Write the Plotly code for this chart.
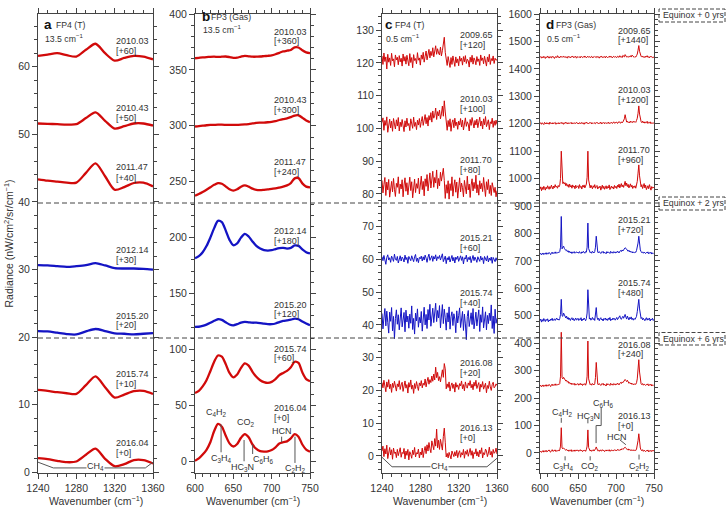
import plotly.graph_objects as go

# ---------------- data ----------------
YEARS_AB = ["2010.03", "2010.43", "2011.47", "2012.14", "2015.20", "2015.74", "2016.04"]
YEARS_CD = ["2009.65", "2010.03", "2011.70", "2015.21", "2015.74", "2016.08", "2016.13"]
OFFSET_A = [60, 50, 40, 30, 20, 10, 0]
OFFSET_B = [360, 300, 240, 180, 120, 60, 0]
OFFSET_C = [120, 100, 80, 60, 40, 20, 0]
OFFSET_D = [1440, 1200, 960, 720, 480, 240, 0]
SEASON = ["red", "red", "red", "blue", "blue", "red", "red"]

# panel a : FP4 13.5 cm-1 (radiance without offset)
WN_A = [1240, 1250, 1260, 1270, 1280, 1290, 1300, 1310, 1320, 1330, 1340, 1350, 1360]
A_201003 = [1.6, 1.8, 2.0, 1.7, 1.5, 2.5, 3.4, 2.0, 0.9, 1.3, 1.6, 1.5, 1.1]
A_201043 = [1.6, 1.55, 1.5, 1.45, 1.5, 2.4, 3.25, 2.0, 0.85, 1.2, 1.6, 1.6, 1.3]
A_201147 = [3.35, 3.15, 3.0, 2.85, 2.85, 4.3, 5.7, 3.8, 1.8, 2.2, 2.8, 2.85, 2.3]
A_201214 = [0.65, 0.6, 0.5, 0.4, 0.5, 0.65, 0.95, 0.6, 0.2, 0.15, 0.15, 0.1, 0.0]
A_201520 = [0.9, 0.85, 0.65, 0.45, 0.4, 0.85, 1.2, 0.9, 0.55, 0.5, 0.4, 0.5, 0.6]
A_201574 = [2.2, 2.05, 1.85, 1.7, 1.6, 2.9, 4.2, 2.6, 1.05, 1.5, 2.0, 2.05, 1.6]
A_201604 = [2.1, 1.95, 1.7, 1.5, 1.6, 2.6, 3.5, 2.0, 0.9, 1.2, 1.8, 1.8, 1.3]

# panel b : FP3 13.5 cm-1
WN_B = [600, 605, 610, 615, 620, 625, 630, 635, 640, 645, 650, 655, 660, 665, 670, 675,
        680, 685, 690, 695, 700, 705, 710, 715, 720, 725, 730, 735, 740, 745, 750]
B_201003 = [0.4, 0.8, 1.2, 1.5, 1.7, 1.8, 1.6, 1.8, 2.0, 1.5, 0.8, 1.0, 1.9, 2.6, 2.2, 1.8,
            1.8, 2.0, 2.3, 2.6, 3.0, 4.0, 5.3, 6.5, 7.2, 7.8, 10.2, 10.0, 7.5, 5.6, 5.0]
B_201043 = [-0.6, -0.3, 0.1, 0.5, 0.8, 0.9, 1.0, 1.0, 0.9, 0.8, 0.8, 0.9, 1.0, 1.2, 1.6, 2.1,
            2.6, 2.8, 2.9, 3.2, 3.6, 4.2, 5.2, 6.0, 6.6, 7.8, 9.2, 9.4, 7.2, 4.8, 3.3]
B_201147 = [-2.5, -1.0, 0.8, 2.8, 5.0, 7.2, 8.7, 8.2, 5.8, 3.2, 2.0, 3.2, 5.5, 6.7, 5.6, 3.8,
            2.7, 2.5, 2.8, 3.2, 3.7, 4.1, 4.8, 5.6, 6.7, 8.8, 13.0, 13.2, 8.5, 5.6, 5.0]
B_201214 = [1.6, 3.5, 7.0, 12.5, 20.0, 28.5, 35.0, 33.8, 26.5, 18.0, 13.2, 14.8, 20.0, 23.4, 21.0, 16.5,
            12.6, 10.2, 8.8, 8.4, 8.8, 9.8, 10.6, 10.8, 10.2, 10.8, 13.0, 12.6, 9.5, 7.0, 5.8]
B_201520 = [0.1, 0.3, 1.0, 2.2, 3.8, 5.6, 7.0, 6.4, 4.3, 2.3, 1.6, 2.6, 4.0, 4.7, 4.3, 3.9,
            4.0, 3.6, 3.0, 2.6, 2.6, 3.2, 4.5, 5.5, 6.0, 6.6, 7.6, 7.0, 5.0, 3.2, 1.6]
B_201574 = [1.1, 3.0, 7.0, 12.5, 20.5, 29.0, 34.6, 33.5, 27.0, 19.0, 15.0, 17.5, 23.5, 27.5, 25.5, 20.0,
            15.5, 12.5, 10.8, 10.1, 11.0, 13.5, 17.0, 19.0, 20.8, 24.0, 29.0, 28.0, 19.5, 13.5, 11.6]
B_201604 = [0.5, 2.5, 6.0, 10.2, 17.0, 27.0, 33.5, 31.0, 23.0, 16.0, 13.2, 15.5, 21.0, 24.3, 21.5, 15.0,
            11.0, 9.0, 8.6, 8.8, 10.0, 12.5, 15.8, 17.0, 17.8, 20.5, 24.3, 22.0, 15.0, 10.5, 8.6]

# panel c : FP4 0.5 cm-1, sampled every 1 cm-1 from 1240 to 1360
WN_C = list(range(1240, 1361))
C_200965 = [2.1, -0.5, 3.0, 0.4, 1.8, -1.9, 2.6, 0.2, 1.5, -0.8, 2.9, 0.6, 1.2, -1.2, 2.4, 0.9, 1.7, -0.6, 2.2, 0.3,
            1.4, -1.0, 2.7, 0.5, 1.9, -0.4, 2.3, 1.0, -0.9, 2.8, 0.1, 1.6, -1.5, 2.5, 0.7, 1.3, -0.3, 3.1, 0.8, 1.5,
            -0.7, 2.4, 1.1, 3.2, 0.2, 2.0, 3.6, 0.9, 2.9, 4.1, 1.5, 3.5, 2.2, 4.6, 1.8, 3.9, 5.2, 2.6, 4.3, 3.0,
            2.4, 4.8, 2.1, 3.7, 5.9, 7.8, 3.2, 0.6, -0.8, 1.9, 0.2, -1.4, 1.6, -0.5, 2.1, 0.4, -1.1, 1.8, 0.0, 1.2,
            -0.9, 2.0, 0.5, 1.4, -0.7, 1.9, 0.3, 2.2, -0.2, 1.1, 0.6, -1.3, 1.7, 0.2, 2.3, -0.4, 1.5, 0.8, -0.6, 1.9,
            0.4, 1.2, -0.8, 2.4, 0.7, 1.5, -0.3, 2.0, 0.9, -1.0, 1.8, 0.3, 2.6, -0.5, 1.3, 0.6, 2.1, -0.2, 1.4, 0.8,
            1.0]
C_201003 = [1.8, 3.2, -0.6, 2.4, 0.9, 3.5, -1.2, 1.6, 2.8, 0.1, 2.2, -0.9, 3.0, 1.3, -0.2, 2.6, 0.7, 3.3, -0.8, 1.9,
            0.5, 2.7, 1.1, -1.0, 2.3, 0.4, 3.1, 0.8, 1.5, -0.7, 2.9, 1.2, 0.0, 3.4, 0.6, 1.8, -0.4, 2.5, 1.0, 3.0,
            0.3, 2.1, 3.6, 0.9, 2.8, 4.2, 1.4, 3.3, 0.7, 3.9, 2.5, 4.8, 1.9, 5.3, 3.1, 4.0, 6.2, 2.7, 5.1, 3.8,
            5.6, 2.9, 4.4, 6.8, 3.7, 8.4, 5.0, 1.2, -0.6, 2.4, 0.5, 2.9, -0.9, 1.7, 2.6, 0.2, 3.1, 0.8, 1.9, -0.3,
            2.2, 1.0, 3.0, 0.4, 2.5, -0.5, 1.8, 3.2, 0.6, 2.0, 1.3, -0.8, 2.7, 0.9, 3.3, 1.4, 0.1, 2.4, 1.0, 2.8,
            0.2, 1.9, 3.4, 0.7, 2.2, -0.2, 2.9, 1.1, 3.6, 0.5, 1.7, 2.6, -0.4, 2.0, 1.4, 3.1, 0.3, 2.3, 0.9, 2.5,
            1.2]
C_201170 = [4.1, 0.3, 2.9, 5.0, -0.5, 3.6, 1.2, 4.4, -1.0, 2.5, 3.8, 0.6, 4.7, 1.4, -0.8, 3.2, 2.0, 5.2, 0.1, 3.0,
            1.5, 4.3, -0.9, 2.7, 4.9, 0.8, 3.4, -0.3, 2.2, 5.1, 1.0, 3.7, -1.2, 2.6, 4.5, 0.4, 3.1, 1.7, 4.8, 0.0,
            2.9, 5.4, 1.3, 3.8, -0.6, 4.6, 2.3, 5.9, 0.9, 3.5, 6.4, 1.8, 4.2, 6.9, 2.0, 5.0, 3.3, 7.3, 1.6, 4.7,
            2.4, 6.6, 3.9, 5.5, 7.8, 4.1, -1.4, 2.8, 0.2, 4.0, -1.6, 3.1, 1.0, 5.2, -0.7, 2.4, 4.3, 0.5, 3.6, -1.3,
            2.2, 4.9, 0.6, 3.3, 1.9, -0.9, 4.1, 2.5, 0.0, 5.4, 1.2, 3.0, -1.1, 2.7, 4.6, 0.9, 3.5, 1.6, 5.7, 0.3,
            2.8, -0.4, 4.0, 1.5, 3.2, 0.7, 5.0, 2.1, -0.8, 3.7, 1.3, 4.4, 0.1, 2.6, -0.5, 3.4, 1.1, 0.4, 2.0, -0.9,
            1.0]
C_201521 = [0.8, -0.4, 1.2, 0.1, -1.5, 0.6, 1.4, -0.2, 0.5, -0.9, 1.0, 0.3, -0.6, 1.6, 0.0, -0.3, 0.9, -1.1, 0.4, 1.1,
            -0.5, 0.7, 0.2, -0.8, 1.3, -0.1, 0.6, -1.2, 0.9, 0.3, -0.4, 1.1, 0.0, -0.7, 0.8, 1.5, -0.6, 0.4, -1.0, 0.6,
            0.2, 1.0, -0.5, 0.8, -0.2, 1.3, 0.4, -0.9, 0.7, 1.6, -0.3, 0.5, 1.1, -0.6, 0.9, 0.1, 1.4, -0.4, 0.8, 0.3,
            1.2, -0.2, 0.6, 1.7, -0.7, 0.4, 1.0, -1.3, 0.5, -0.2, 0.9, -0.8, 0.3, 1.2, -0.5, 0.6, -1.1, 0.7, 0.0, 1.0,
            -0.6, 0.4, 1.1, -0.3, 0.8, -1.4, 0.5, 0.1, 1.3, -0.7, 0.6, -0.1, 0.9, -1.0, 0.3, 1.2, -0.4, 0.7, 0.0, -0.9,
            0.8, 0.2, -0.6, 1.0, -0.2, 0.5, -1.3, 0.9, 0.1, -0.5, 1.1, -0.8, 0.4, -0.3, 0.7, -1.2, 0.6, 0.0, -0.7, 0.5,
            -0.4]
C_201574 = [3.5, -1.2, 2.1, 5.0, -0.3, 4.2, 0.8, -2.5, 3.9, 1.1, 5.3, -1.8, 2.6, -4.2, 1.9, 4.6, 0.2, 3.1, -1.5, 2.4,
            5.2, -0.6, 1.4, 3.8, -2.1, 4.5, 0.9, 2.7, -1.0, 3.3, 0.5, 5.8, -1.4, 2.0, -2.8, 3.6, 1.2, 4.9, -0.7, 2.3,
            0.6, 4.1, -1.9, 2.8, 5.4, 0.0, 3.2, -1.1, 4.7, 1.5, 6.3, -0.4, 2.9, 5.1, 0.7, 3.8, 6.6, 1.0, 4.4, 2.1,
            5.9, -0.9, 3.0, 6.2, 0.4, 4.8, 2.2, -1.6, 3.7, 0.9, 5.5, -1.3, 2.5, 4.0, -0.2, 3.4, 1.8, -2.4, 4.3, 0.6,
            2.8, 5.2, -0.8, 1.7, 4.1, -1.7, 3.3, 0.3, -4.5, 2.6, 4.4, -0.5, 1.9, 3.7, 0.1, 5.0, -1.2, 2.4, 3.9, -0.3,
            1.6, 4.6, -2.0, 3.1, 0.8, 5.5, -0.9, 2.2, 4.0, -1.5, 2.9, 0.4, 3.6, 1.3, 6.1, -1.1, 2.7, -2.6, 4.8, 0.5,
            2.0]
C_201608 = [2.4, 0.8, 3.1, 1.2, -0.4, 2.6, 1.0, 3.3, 0.5, 1.9, -0.6, 2.2, 0.9, 2.8, 1.4, -0.2, 2.0, 1.1, 3.0, 0.3,
            1.7, 2.5, -0.3, 1.3, 2.9, 0.7, 1.8, -0.8, 2.4, 1.0, 3.2, 0.4, 1.6, -0.9, 2.1, 0.6, 2.7, 1.2, 0.0, 2.3,
            1.4, 3.0, 0.8, 2.2, 1.6, 3.5, 1.1, 2.7, 4.0, 1.9, 3.3, 2.4, 4.4, 2.8, 5.0, 3.2, 7.1, 3.9, 5.5, 3.0,
            4.2, 2.6, 5.1, 6.3, 4.0, 8.2, 6.6, 0.5, 2.0, 0.9, 2.6, -0.2, 1.5, 2.3, 0.6, 1.9, -0.5, 2.4, 1.0, 1.7,
            0.3, 2.1, 1.4, 2.9, 0.5, 1.8, -0.1, 2.6, 1.2, 0.7, 2.3, 1.5, 3.0, 0.8, 1.9, 0.2, 2.5, 1.3, 3.1, 0.6,
            1.6, 2.4, -0.4, 1.9, 1.0, 2.7, 0.4, 1.3, 2.2, -0.7, 1.5, 0.6, 2.8, 1.1, 0.0, 1.8, 2.5, 0.8, 1.2, 2.0,
            1.5]
C_201613 = [1.5, 3.0, -0.2, 2.2, 0.6, 3.3, -0.8, 1.4, 2.6, 0.3, 1.9, -1.0, 2.4, 0.8, 1.2, -0.5, 2.0, 0.1, 1.6, 2.5,
            -0.4, 1.1, 0.7, 2.3, -0.9, 1.5, 0.2, 2.0, -1.2, 1.3, 0.5, -0.7, 1.8, 0.4, 2.6, -0.3, 1.0, 0.6, 2.1, -0.6,
            1.2, 0.3, 2.4, -0.5, 1.6, 2.9, 0.7, 3.4, 1.5, 4.1, 2.2, 1.0, 4.6, 2.7, 1.9, 5.3, 3.0, 8.2, 2.5, 4.8,
            2.0, 5.1, 3.6, 1.8, 5.9, 8.5, 4.2, -0.3, 0.8, -0.6, 1.1, 0.2, -0.9, 1.5, 0.4, -0.2, 1.3, 0.0, 1.7, -0.5,
            0.9, 1.6, -0.4, 1.0, 0.3, 2.0, -0.7, 1.4, 0.5, 1.9, -0.1, 1.2, 2.3, 0.2, 1.6, -0.8, 1.1, 0.6, 2.2, 0.0,
            1.3, -0.3, 1.8, 0.7, 2.5, -0.6, 1.0, 0.4, 2.1, 1.5, -0.2, 0.9, 2.7, 0.3, 1.4, -0.4, 2.0, 0.8, 1.2, 2.4,
            0.6]

# panel d : FP3 0.5 cm-1, sampled every 1 cm-1 from 600 to 750
WN_D = list(range(600, 751))
D_200965 = [2, 5, -1, 4, 0, 6, 3, -2, 4, 1, 7, 2, -1, 5, 3, 0, 6, 2, 4, -2, 3, 5, 1, 8, 2,
            4, 0, 6, 3, 5, 2, 7, 4, 1, 5, 3, -1, 6, 2, 4, 0, 5, 3, 7, 1, 4, 2, 6, -1, 3,
            5, 2, 4, 0, 6, 3, 1, 5, 2, 7, 3, 0, 4, 6, 2, 5, 1, 3, 6, 0, 4, 2, 5, 3, 1,
            6, 2, 4, -1, 5, 3, 7, 1, 4, 2, 5, 0, 6, 3, 1, 4, 2, 7, 3, 5, 0, 4, 6, 2, 5,
            3, 1, 6, 4, 2, 8, 3, 5, 1, 9, 6, 4, 12, 7, 3, 5, 2, 6, 4, 8, 3, 10, 6, 4, 2,
            5, 3, 8, 14, 28, 45, 24, 10, 6, 3, 7, 2, 5, 1, 6, 3, 8, 2, 4, 0, 6, 3, 5, 1, 4,
            3]
D_201003 = [0, 4, -2, 3, 1, -3, 5, 2, -1, 4, 0, 3, -2, 6, 1, 2, -1, 4, 0, 3, 5, -2, 2, 1, 4,
            -1, 3, 2, 5, 0, 4, -2, 3, 1, 6, 2, -1, 4, 0, 3, 2, 5, -1, 3, 1, 4, 0, 2, 5, 1,
            3, -1, 4, 2, 0, 5, 1, 3, -2, 4, 2, 6, 1, 3, 0, 4, 2, 5, -1, 3, 1, 4, 2, 0, 5,
            2, 4, 0, 3, 1, 6, -1, 3, 2, 5, 0, 4, 1, 3, 2, 6, 0, 4, 2, 5, 1, 3, 7, 2, 4,
            3, 6, 1, 5, 8, 4, 2, 7, 3, 6, 12, 18, 33, 14, 6, 9, 4, 7, 3, 10, 5, 8, 4, 9, 6,
            8, 5, 12, 20, 38, 65, 35, 14, 8, 4, 10, 3, 7, 2, 6, 4, 9, 1, 5, 3, 7, 0, 4, 2, 3,
            1]
D_201170 = [2, 10, -4, 8, 0, 12, 5, -2, 9, 3, 14, 6, 1, 11, 4, 16, 8, 2, 13, 7, 18, 9, 12, 5, 15,
            10, 16, 40, 140, 30, 22, 28, 20, 25, 14, 22, 12, 18, 8, 20, 10, 15, 5, 17, 9, 13, 3, 16, 7, 11,
            14, 4, 18, 8, 12, 2, 15, 9, 17, 6, 13, 20, 45, 140, 35, 12, 6, 16, 9, 3, 14, 8, 18, 5, 11,
            15, 2, 10, 7, 13, -2, 9, 16, 4, 12, 1, 8, 14, 3, 11, 6, 17, 0, 9, 13, 5, 10, 2, 15, 7,
            12, 4, 16, 9, 20, 6, 13, 22, 10, 17, 8, 25, 30, 14, 24, 11, 19, 6, 15, 21, 9, 16, 4, 12, 8,
            14, 5, 18, 30, 60, 90, 50, 20, 10, 18, 4, 12, 22, 6, 16, 0, 10, 14, 3, 18, 8, -2, 11, 5, 9,
            6]
D_201521 = [4, 8, 2, 6, 9, 3, 7, 5, 10, 4, 8, 6, 11, 7, 3, 9, 12, 6, 10, 8, 13, 7, 11, 9, 12,
            10, 14, 30, 142, 24, 28, 34, 26, 22, 18, 20, 14, 17, 11, 15, 9, 13, 7, 12, 10, 14, 8, 11, 13, 9,
            12, 8, 14, 10, 7, 13, 9, 15, 11, 8, 14, 12, 30, 118, 25, 14, 10, 13, 8, 15, 11, 9, 14, 30, 70,
            20, 12, 9, 14, 10, 7, 13, 11, 15, 8, 12, 10, 6, 14, 9, 13, 11, 7, 15, 10, 12, 8, 14, 11, 9,
            13, 10, 16, 12, 9, 15, 18, 14, 20, 16, 22, 24, 28, 26, 21, 17, 15, 19, 13, 16, 11, 14, 9, 12, 10,
            13, 11, 18, 28, 45, 70, 38, 20, 14, 10, 13, 8, 12, 10, 7, 11, 9, 13, 6, 10, 8, 12, 5, 9, 7,
            10]
D_201574 = [2, 8, -3, 6, 0, 10, 4, -1, 7, 3, 9, -2, 5, 1, 8, 4, 11, 2, 6, 9, 3, 7, 12, 5, 8,
            4, 10, 25, 80, 20, 18, 30, 22, 16, 12, 19, 8, 14, 6, 11, 3, 9, 13, 5, 10, 2, 8, 12, 4, 7,
            11, 3, 9, 6, 13, 1, 8, 5, 12, 7, 2, 10, 30, 115, 20, 8, 12, 4, 9, 14, 6, 10, 3, 22, 50,
            15, 6, 11, 2, 9, 13, 5, 8, 1, 10, 7, 12, 4, 9, 3, 11, 6, 14, 2, 8, 5, 12, 7, 10, 4,
            9, 14, 6, 12, 16, 20, 10, 7, 13, 18, 11, 22, 25, 15, 8, 19, 12, 5, 14, 9, 16, 6, 11, 4, 10,
            7, 12, 18, 35, 55, 80, 45, 20, 10, 14, 5, 11, 8, 2, 9, 13, 4, 10, 6, 12, 1, 8, 5, 11, 3,
            7]
D_201608 = [3, 7, 1, 5, 8, 2, 6, 4, 9, 3, 7, 5, 10, 6, 2, 8, 11, 5, 9, 7, 12, 6, 10, 8, 11,
            9, 13, 40, 200, 35, 30, 36, 32, 27, 22, 25, 18, 21, 14, 17, 11, 15, 9, 13, 10, 14, 7, 12, 9, 11,
            13, 7, 10, 14, 8, 12, 6, 11, 9, 13, 7, 15, 40, 168, 30, 14, 9, 12, 7, 13, 10, 8, 12, 35, 90,
            22, 11, 8, 13, 9, 6, 12, 10, 14, 7, 11, 9, 4, 13, 8, 12, 10, 6, 14, 9, 11, 7, 13, 10, 8,
            12, 9, 15, 11, 8, 14, 17, 13, 19, 16, 22, 26, 28, 24, 20, 25, 18, 14, 17, 12, 15, 10, 13, 8, 11,
            12, 10, 16, 30, 60, 100, 55, 22, 12, 9, 13, 7, 11, 9, 6, 10, 8, 12, 5, 9, 7, 11, 4, 8, 6,
            9]
D_201613 = [4, 7, 2, 6, 9, 3, 8, 5, 10, 4, 7, 6, 11, 5, 3, 9, 12, 6, 8, 7, 11, 5, 9, 8, 10,
            7, 11, 25, 92, 18, 15, 18, 14, 12, 10, 13, 8, 11, 6, 10, 8, 12, 5, 9, 7, 11, 6, 10, 8, 9,
            11, 6, 9, 12, 7, 10, 5, 9, 8, 11, 6, 12, 25, 84, 20, 10, 7, 11, 6, 9, 12, 7, 10, 15, 22,
            12, 8, 10, 6, 11, 9, 7, 12, 8, 10, 5, 9, 11, 7, 10, 8, 12, 6, 9, 11, 7, 10, 8, 12, 9,
            11, 8, 13, 10, 12, 9, 14, 11, 16, 13, 17, 19, 21, 17, 14, 12, 15, 10, 13, 9, 12, 8, 11, 10, 9,
            11, 9, 14, 25, 45, 70, 40, 18, 11, 8, 12, 6, 10, 8, 5, 9, 7, 11, 4, 8, 6, 10, 5, 9, 7,
            8]

SPEC_A = [A_201003, A_201043, A_201147, A_201214, A_201520, A_201574, A_201604]
SPEC_B = [B_201003, B_201043, B_201147, B_201214, B_201520, B_201574, B_201604]
SPEC_C = [C_200965, C_201003, C_201170, C_201521, C_201574, C_201608, C_201613]
SPEC_D = [D_200965, D_201003, D_201170, D_201521, D_201574, D_201608, D_201613]

# ---------------- style / layout ----------------
W, H = 728, 508
RED = "#d10a0a"
BLUE = "#1414c4"
TXT = "#333333"
AX = "#444444"
FONT = "Liberation Sans, Arial, sans-serif"
COL = {"red": RED, "blue": BLUE}
LAB_SIZE = 9
MOL_SIZE = 9


def px(x):
    return x / W


def py(y):
    return 1 - y / H


Y_DOM = [py(473), py(14)]
PANELS = [
    # axis suffix, x-domain px, x range, y range, xdtick, xminor, ydtick, yminor
    ("", (38, 153), (1240, 1360), (-0.1, 67.8), 40, 10, 10, 2),
    ("2", (195, 310), (600, 750), (-10.5, 400), 50, 10, 50, 10),
    ("3", (382, 497), (1240, 1360), (-5.2, 134.9), 40, 10, 10, 2),
    ("4", (540, 654), (600, 750), (-73, 1600), 50, 10, 100, 20),
]

fig = go.Figure()

for (sfx, spec_list, wn, offs, lw, shape) in [
    ("", SPEC_A, WN_A, OFFSET_A, 2.3, "spline"),
    ("2", SPEC_B, WN_B, OFFSET_B, 2.3, "spline"),
    ("3", SPEC_C, WN_C, OFFSET_C, 1.0, "linear"),
    ("4", SPEC_D, WN_D, OFFSET_D, 1.0, "linear"),
]:
    for spec, off, season in zip(spec_list, offs, SEASON):
        fig.add_trace(go.Scatter(
            x=wn[:len(spec)], y=[v + off for v in spec], mode="lines",
            line=dict(color=COL[season], width=lw, shape=shape, smoothing=0.8),
            xaxis="x" + sfx, yaxis="y" + sfx, showlegend=False, hoverinfo="skip"))

layout = dict(width=W, height=H, margin=dict(l=0, r=0, t=0, b=0),
              paper_bgcolor="white", plot_bgcolor="white", showlegend=False,
              font=dict(family=FONT, color=TXT, size=11))

for sfx, (x0, x1), xr, yr, xdt, xmi, ydt, ymi in PANELS:
    common = dict(ticks="outside", ticklen=5, tickwidth=1, tickcolor=AX, showline=True,
                  linecolor=AX, linewidth=1, mirror="allticks", showgrid=False, zeroline=False,
                  tickfont=dict(size=10.5, color=TXT, family=FONT), automargin=False)
    layout["xaxis" + sfx] = dict(domain=[px(x0), px(x1)], range=list(xr), dtick=xdt, tick0=xr[0],
                                 anchor="y" + sfx,
                                 minor=dict(dtick=xmi, tick0=xr[0], ticks="outside", ticklen=3,
                                            tickcolor=AX, showgrid=False), **common)
    layout["yaxis" + sfx] = dict(domain=Y_DOM, range=list(yr), dtick=ydt, tick0=0,
                                 anchor="x" + sfx,
                                 minor=dict(dtick=ymi, tick0=0, ticks="outside", ticklen=3,
                                            tickcolor=AX, showgrid=False), **common)

fig.update_layout(**layout)

ann = []
shapes = []

# spectrum labels: (panel x px, [(y1, y2), ...])
LABEL_POS = [
    (114, YEARS_AB, OFFSET_A, [(41, 50.5), (108, 118), (167, 177.5), (250, 260), (315.5, 325), (374, 384), (443, 452.5)]),
    (271.5, YEARS_AB, OFFSET_B, [(31.5, 41.5), (100, 110), (161.5, 171.5), (231, 240.5), (304.5, 314), (348.5, 358), (407.5, 417.5)]),
    (458, YEARS_CD, OFFSET_C, [(35, 45), (98.5, 108.5), (160, 170), (237.5, 247.5), (293, 303), (363, 373), (428, 438)]),
    (616, YEARS_CD, OFFSET_D, [(30.5, 40), (90, 100), (150, 159.5), (219.5, 229.5), (283, 293), (344.5, 354), (416, 426)]),
]
for xl, years, offs, ys in LABEL_POS:
    for yr_, off, (y1, y2) in zip(years, offs, ys):
        ann.append(dict(text=yr_, x=px(xl), y=py(y1), xref="paper", yref="paper",
                        xanchor="left", yanchor="middle", showarrow=False,
                        font=dict(size=LAB_SIZE, color=TXT)))
        ann.append(dict(text="[+%d]" % off, x=px(xl), y=py(y2), xref="paper", yref="paper",
                        xanchor="left", yanchor="middle", showarrow=False,
                        font=dict(size=LAB_SIZE, color=TXT)))

# panel headers
HEADERS = [("a", "FP4 (T)", "13.5 cm<sup>−1</sup>", 43, 54.5, 25, 38),
           ("b", "FP3 (Gas)", "13.5 cm<sup>−1</sup>", 200.5, 209.5, 17, 29),
           ("c", "FP4 (T)", "0.5 cm<sup>−1</sup>", 383.5, 393.5, 25, 38),
           ("d", "FP3 (Gas)", "0.5 cm<sup>−1</sup>", 545, 555, 25, 38)]
for letter, inst, res, xl, xi, y1, y2 in HEADERS:
    ann.append(dict(text="<b>%s</b>" % letter, x=px(xl - 1), y=py(y1 - 0.5), xref="paper", yref="paper",
                    xanchor="left", yanchor="middle", showarrow=False,
                    font=dict(size=13.5, color="#111111")))
    ann.append(dict(text=inst, x=px(xi - 1), y=py(y1), xref="paper", yref="paper",
                    xanchor="left", yanchor="middle", showarrow=False, font=dict(size=8.7, color=TXT)))
    ann.append(dict(text=res, x=px(xl), y=py(y2), xref="paper", yref="paper",
                    xanchor="left", yanchor="middle", showarrow=False, font=dict(size=8.7, color=TXT)))

# axis titles
for x0, x1 in [(38, 153), (195, 310), (382, 497), (540, 654)]:
    ann.append(dict(text="Wavenumber (cm<sup>−1</sup>)", x=px((x0 + x1) / 2), y=py(500),
                    xref="paper", yref="paper", xanchor="center", yanchor="middle",
                    showarrow=False, font=dict(size=10.5, color=TXT)))
ann.append(dict(text="Radiance (nW/cm<sup>2</sup>/sr/cm<sup>−1</sup>)", x=px(8), y=py(243.5),
                xref="paper", yref="paper", xanchor="center", yanchor="middle", textangle=-90,
                showarrow=False, font=dict(size=10.5, color=TXT)))

# equinox dividers
for ypx_ in (203, 338):
    shapes.append(dict(type="line", xref="paper", yref="paper", x0=px(38), x1=px(659),
                       y0=py(ypx_), y1=py(ypx_), line=dict(color=AX, width=1, dash="5px,3px")))
for txt, (yt, yb) in [("Equinox + 0 yrs", (9, 22)), ("Equinox + 2 yrs", (197, 210)),
                      ("Equinox + 6 yrs", (332.5, 345))]:
    shapes.append(dict(type="rect", xref="paper", yref="paper", x0=px(659), x1=px(725),
                       y0=py(yb), y1=py(yt), line=dict(color=AX, width=1, dash="4px,2px")))
    ann.append(dict(text=txt, x=px(660.5), y=py((yt + yb) / 2), xref="paper", yref="paper",
                    xanchor="left", yanchor="middle", showarrow=False, font=dict(size=8.8, color=TXT)))

# CH4 brackets (data coords)
GRAY = "#555555"
for xr_, yr_, lab in [("x", "y", (1299.5, 0.8)), ("x3", "y3", (1300.5, -3.3))]:
    if xr_ == "x":
        pts = [(1240, 1.5), (1256, 0.65), (1352, 0.65), (1360, 1.5)]
    else:
        pts = [(1240, -0.4), (1250.5, -3.3), (1349.5, -3.3), (1360, -0.7)]
    path = "M %s,%s L %s,%s L %s,%s L %s,%s" % (pts[0] + pts[1] + pts[2] + pts[3])
    shapes.append(dict(type="path", xref=xr_, yref=yr_, path=path, line=dict(color=GRAY, width=1)))
    ann.append(dict(text="CH<sub>4</sub>", x=lab[0], y=lab[1], xref=xr_, yref=yr_, showarrow=False,
                    xanchor="center", yanchor="middle", bgcolor="white", borderpad=0,
                    font=dict(size=MOL_SIZE, color=TXT)))

# molecule labels panel b
MOL_B = [("C<sub>4</sub>H<sub>2</sub>", 628.3, 44), ("C<sub>3</sub>H<sub>4</sub>", 635, 2.5),
         ("CO<sub>2</sub>", 666.5, 34.5), ("HC<sub>3</sub>N", 662.5, -5.5),
         ("C<sub>6</sub>H<sub>6</sub>", 689.5, 1.5), ("HCN", 713, 27),
         ("C<sub>2</sub>H<sub>2</sub>", 730.5, -6.5)]
LINES_B = [((634, 33), (634, 8)), ((664, 19), (664, 0)), ((675.2, 15), (675.2, 6.5)),
           ((713, 22), (713, 17)), ((730.4, 22), (730.4, -1.5))]
for t, x, y in MOL_B:
    ann.append(dict(text=t, x=x, y=y, xref="x2", yref="y2", showarrow=False,
                    xanchor="center", yanchor="middle", font=dict(size=MOL_SIZE, color=TXT)))
for (xa, ya), (xb, yb) in LINES_B:
    shapes.append(dict(type="line", xref="x2", yref="y2", x0=xa, y0=ya, x1=xb, y1=yb,
                       line=dict(color=GRAY, width=1)))

# molecule labels panel d
MOL_D = [("C<sub>4</sub>H<sub>2</sub>", 630, 146), ("C<sub>3</sub>H<sub>4</sub>", 631, -50),
         ("HC<sub>3</sub>N", 663.5, 134), ("C<sub>6</sub>H<sub>6</sub>", 683, 182),
         ("CO<sub>2</sub>", 666, -50), ("HCN", 701.5, 60), ("C<sub>2</sub>H<sub>2</sub>", 730.5, -50)]
LINES_D = [[(628, 128), (628, 110)], [(633, -12), (633, -27)], [(663, 125), (663, 108)],
           [(680.5, 164), (680.5, 100), (673.8, 100), (673.8, 36)],
           [(666, -12), (666, -27)], [(705, 48), (713, 30)], [(730.3, -6), (730.3, -24)]]
for t, x, y in MOL_D:
    ann.append(dict(text=t, x=x, y=y, xref="x4", yref="y4", showarrow=False,
                    xanchor="center", yanchor="middle", font=dict(size=MOL_SIZE, color=TXT)))
for pl in LINES_D:
    path = "M " + " L ".join("%s,%s" % p for p in pl)
    shapes.append(dict(type="path", xref="x4", yref="y4", path=path, line=dict(color=GRAY, width=1)))

fig.update_layout(annotations=ann, shapes=shapes)
fig.write_html("out.html")
